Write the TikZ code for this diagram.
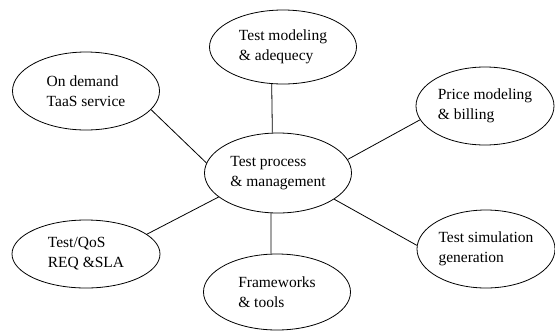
\documentclass[tikz,border=0pt]{standalone}
\usepackage{fontspec}
\setmainfont{Liberation Serif}
\usetikzlibrary{shapes.geometric}

\begin{document}
\begin{tikzpicture}[x=1pt, y=-1pt,
  font=\fontsize{15.5}{20}\selectfont,
  topic/.style={ellipse, draw=black, line width=0.8pt, inner sep=0pt,
                align=left, fill=white},
  link/.style={draw=black, line width=0.8pt}
]
\useasboundingbox (0,0) rectangle (555,333);

\node[topic, minimum width=147, minimum height=80] (proc)   at (278,173) {Test process\\\& management};
\node[topic, minimum width=147, minimum height=74] (model)  at (283, 47) {Test modeling\\\& adequecy};
\node[topic, minimum width=147, minimum height=78] (demand) at ( 86, 91) {On demand\\TaaS service};
\node[topic, minimum width=138, minimum height=78] (price)  at (485,106) {Price modeling\\\& billing};
\node[topic, minimum width=148, minimum height=68] (qos)    at ( 86,254) {Test/QoS\\REQ \&SLA};
\node[topic, minimum width=147, minimum height=76] (frame)  at (277,292) {Frameworks\\\& tools};
\node[topic, minimum width=138, minimum height=78] (sim)    at (486,249) {Test simulation\\generation};

\draw[link] (demand.-16) -- (proc.172);
\draw[link] (model.253)  -- (proc.98);
\draw[link] (price.192)  -- (proc.11);
\draw[link] (qos.18)     -- (proc.202);
\draw[link] (frame.99)   -- (proc.260);
\draw[link] (sim.177)    -- (proc.-25);
\end{tikzpicture}
\end{document}
